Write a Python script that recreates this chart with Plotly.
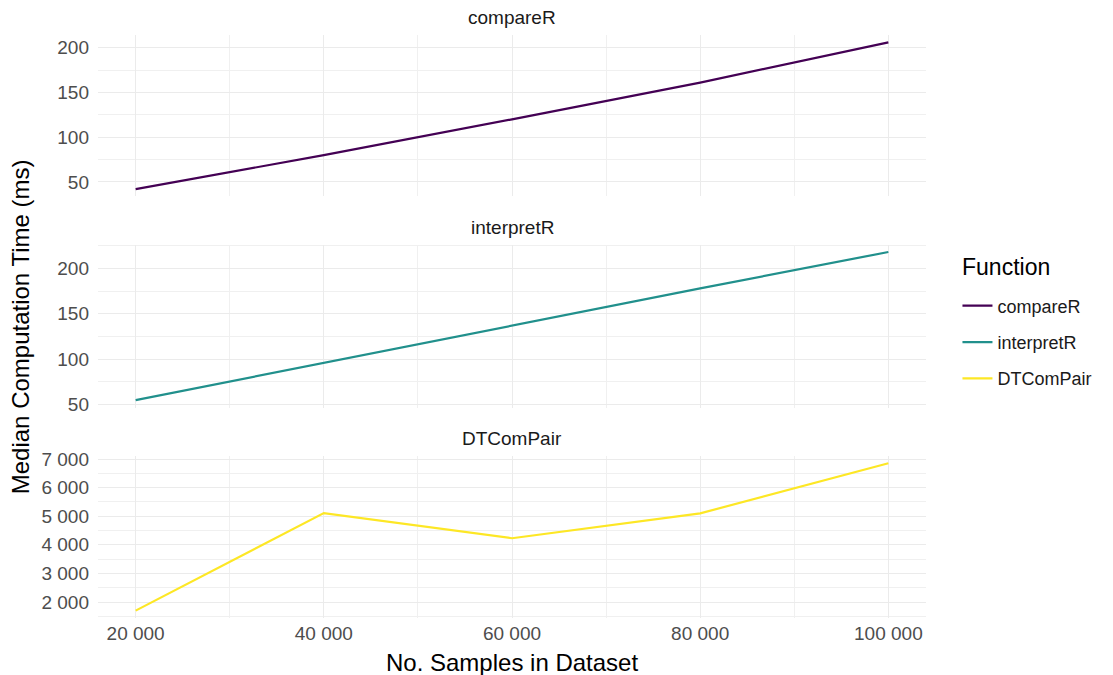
import plotly.graph_objects as go

samples = [20000, 40000, 60000, 80000, 100000]
functions = ["compareR", "interpretR", "DTComPair"]
compareR_ms = [42, 80, 120, 161, 206]
interpretR_ms = [55, 96, 137, 178, 218]
dtcompair_ms = [1700, 5110, 4230, 5100, 6850]
series = [compareR_ms, interpretR_ms, dtcompair_ms]
colors = ["#440154", "#21908C", "#FDE725"]
y_major = [50, 50, 1000]

FONT = "Liberation Sans, Arial, sans-serif"

fig = go.Figure()

def expand(vals, f=0.05):
    lo, hi = min(vals), max(vals)
    d = (hi - lo) * f
    return [lo - d, hi + d]

domains = [[0.723, 1.0], [0.361, 0.6405], [0.0, 0.278]]
xr = expand(samples)

for i, (name, vals, col) in enumerate(zip(functions, series, colors)):
    n = "" if i == 0 else str(i + 1)
    fig.add_trace(go.Scatter(
        x=samples, y=vals, mode="lines", name=name,
        line=dict(color=col, width=2.2),
        xaxis="x" + n, yaxis="y" + n, legendgroup=name,
    ))
    grid = dict(showgrid=True, gridcolor="#EBEBEB", gridwidth=1.3, zeroline=False,
                showline=False, ticks="")
    fig.layout["xaxis" + n] = dict(
        domain=[0, 1], anchor="y" + n, range=xr, dtick=20000, tick0=0,
        tickformat=",d", showticklabels=(i == 2), ticklabelstandoff=2,
        tickfont=dict(size=19, color="#4D4D4D", family=FONT),
        minor=dict(dtick=10000, tick0=0, showgrid=True, gridcolor="#F0F0F0", gridwidth=0.8),
        **grid)
    if i > 0:
        fig.layout["xaxis" + n]["matches"] = "x"
    fig.layout["yaxis" + n] = dict(
        domain=domains[i], anchor="x" + n, range=expand(vals), dtick=y_major[i], tick0=0,
        tickformat=",d", ticklabelstandoff=8,
        tickfont=dict(size=19, color="#4D4D4D", family=FONT),
        minor=dict(dtick=y_major[i] / 2, tick0=0, showgrid=True, gridcolor="#F0F0F0", gridwidth=0.8),
        **grid)
    fig.add_annotation(text=name, x=0.5, y=domains[i][1], xref="paper", yref="paper",
                       xanchor="center", yanchor="bottom", yshift=5, showarrow=False,
                       font=dict(size=19, color="#1A1A1A", family=FONT))

fig.add_annotation(text="Median Computation Time (ms)", x=-0.094, y=0.499, xref="paper", yref="paper",
                   textangle=-90, showarrow=False, xanchor="center", yanchor="middle",
                   font=dict(size=24, color="#000000", family=FONT))
fig.add_annotation(text="No. Samples in Dataset", x=0.5, y=-0.0755, xref="paper", yref="paper",
                   showarrow=False, xanchor="center", yanchor="middle",
                   font=dict(size=24, color="#000000", family=FONT))
fig.add_annotation(text="Function", x=1.0415, y=0.602, xref="paper", yref="paper",
                   showarrow=False, xanchor="left", yanchor="middle",
                   font=dict(size=23, color="#000000", family=FONT))

fig.update_layout(
    width=1105, height=667,
    margin=dict(l=90, r=187, t=27, b=57),
    paper_bgcolor="white", plot_bgcolor="white",
    separators=". ",
    font=dict(family=FONT),
    legend=dict(
        font=dict(size=18, color="#1A1A1A", family=FONT),
        x=1.038, xanchor="left", y=0.567, yanchor="top",
        tracegroupgap=10, itemwidth=30, bgcolor="rgba(0,0,0,0)",
    ),
)

fig.write_html("out.html")
